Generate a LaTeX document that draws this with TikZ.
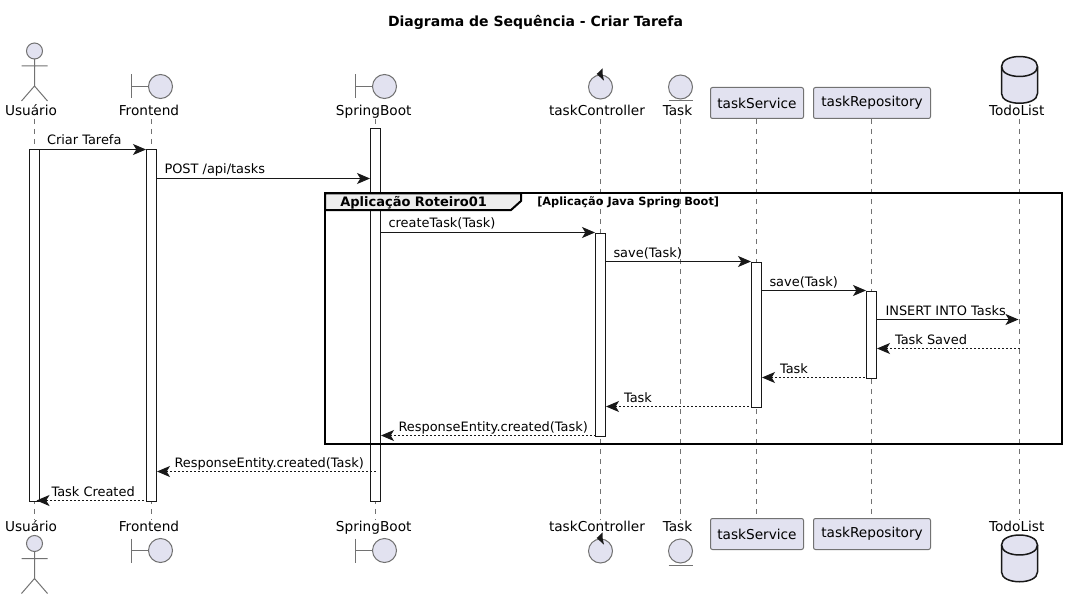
\documentclass[tikz,border=0pt]{standalone}
\usepackage{fontspec}
\setmainfont{DejaVu Sans}
\usetikzlibrary{arrows.meta}
\definecolor{partfill}{HTML}{E2E2F0}
\definecolor{partline}{HTML}{727272}
\definecolor{inkline}{HTML}{181818}
\def\px{0.75pt}
\tikzset{
  partname/.style={anchor=base,inner sep=0pt,text height=11*\px,text depth=3*\px,font=\fontsize{10.25}{12}\selectfont,text=black},
  partbox/.style={draw=partline,fill=partfill,rounded corners=1.5pt,line width=\px,minimum height=31*\px,inner sep=0pt,font=\fontsize{10.25}{12}\selectfont},
  lifeline/.style={draw=partline,line width=\px,dash pattern=on 3.75pt off 3.75pt},
  activation/.style={draw=inkline,fill=white,line width=\px,minimum width=10*\px,inner sep=0pt,anchor=north},
  msg/.style={draw=inkline,line width=\px,-{Stealth[length=9.75pt,width=8.25pt,inset=2.5pt]}},
  retmsg/.style={draw=inkline,line width=\px,{Stealth[length=9.75pt,width=8.25pt,inset=2.5pt]}-,dash pattern=on 1.5pt off 1.5pt},
  msgtext/.style={anchor=base west,inner sep=0pt,yshift=4.5*\px,font=\fontsize{9.7}{12}\selectfont},
  glyph/.style={draw=partline,fill=partfill,line width=\px},
  actorpic/.pic={
    \draw[glyph] (0,0) circle (8);
    \draw[draw=partline,line width=\px] (0,8) -- (0,35) (-13,15) -- (13,15) (-13,50) -- (0,35) -- (13,50);
  },
  boundarypic/.pic={
    \draw[draw=partline,line width=\px] (-29,-12) -- (-29,12) (-29,0) -- (-12,0);
    \draw[glyph] (0,0) circle (12);
  },
  controlpic/.pic={
    \draw[glyph] (0,0) circle (12);
    \fill[inkline] (-3.8,-13) -- (2.2,-18.7) -- (2.2,-12.5) -- (3.5,-6.3) -- cycle;
  },
  entitypic/.pic={
    \draw[glyph] (0,0) circle (12);
    \draw[draw=partline,line width=\px] (-12,14) -- (12,14);
  },
  databasepic/.pic={
    \draw[fill=partfill,draw=inkline,line width=1.5*\px] (-18,10) .. controls (-18,-3.3) and (18,-3.3) .. (18,10) -- (18,37) .. controls (18,50) and (-18,50) .. (-18,37) -- cycle;
    \draw[draw=inkline,line width=1.5*\px] (-18,10) .. controls (-18,23.3) and (18,23.3) .. (18,10);
  }
}
\begin{document}
\begin{tikzpicture}[x=0.75pt,y=-0.75pt]
  \useasboundingbox (0,0) rectangle (1067,599);
  % \draw[help lines,step=100] (0,0) grid (1067,599);

  \draw (535.5,22.5) node (title) [font=\fontsize{10.5}{12}\bfseries] {Diagrama de Sequência - Criar Tarefa};

  \draw (31,115.5) node (usuarioTop) [partname] {Usuário};
  \draw (149,115.5) node (frontendTop) [partname] {Frontend};
  \draw (373.7,115.5) node (springTop) [partname] {SpringBoot};
  \draw (597,115.5) node (controllerTop) [partname] {taskController};
  \draw (677.5,115.5) node (taskTop) [partname] {Task};
  \draw (757,103) node (serviceTop) [partbox,minimum width=93*\px] {taskService};
  \draw (872,103) node (repositoryTop) [partbox,minimum width=117*\px] {taskRepository};
  \draw (1016.7,115.5) node (todoTop) [partname] {TodoList};

  \draw (31,531.5) node (usuarioBot) [partname] {Usuário};
  \draw (149,531.5) node (frontendBot) [partname] {Frontend};
  \draw (373.7,531.5) node (springBot) [partname] {SpringBoot};
  \draw (597,531.5) node (controllerBot) [partname] {taskController};
  \draw (677.5,531.5) node (taskBot) [partname] {Task};
  \draw (757,534) node (serviceBot) [partbox,minimum width=93*\px] {taskService};
  \draw (872,534) node (repositoryBot) [partbox,minimum width=117*\px] {taskRepository};
  \draw (1016.7,531.5) node (todoBot) [partname] {TodoList};

  \pic at (34.5,51) {actorpic};
  \pic at (160.5,86.5) {boundarypic};
  \pic at (384.5,86.5) {boundarypic};
  \pic at (600.5,87) {controlpic};
  \pic at (680.5,87) {entitypic};
  \pic at (1019.5,56.5) {databasepic};

  \pic at (34.5,543.5) {actorpic};
  \pic at (160.5,550.5) {boundarypic};
  \pic at (384.5,550.5) {boundarypic};
  \pic at (600.5,551) {controlpic};
  \pic at (680.5,551) {entitypic};
  \pic at (1019.5,535) {databasepic};

  \coordinate (usuarioLine) at (34.5,0);
  \coordinate (frontendLine) at (151.5,0);
  \coordinate (springLine) at (375.5,0);
  \coordinate (controllerLine) at (600.5,0);
  \coordinate (taskLine) at (680.5,0);
  \coordinate (serviceLine) at (756.5,0);
  \coordinate (repositoryLine) at (871.5,0);
  \coordinate (todoLine) at (1019.5,0);

  \draw [lifeline] (usuarioLine |- usuarioTop.south) -- (usuarioLine |- usuarioBot.north);
  \draw [lifeline] (frontendLine |- frontendTop.south) -- (frontendLine |- frontendBot.north);
  \draw [lifeline] (springLine |- springTop.south) -- (springLine |- springBot.north);
  \draw [lifeline] (controllerLine |- controllerTop.south) -- (controllerLine |- controllerBot.north);
  \draw [lifeline] (taskLine |- taskTop.south) -- (taskLine |- taskBot.north);
  \draw [lifeline] (serviceLine |- serviceTop.south) -- (serviceLine |- serviceBot.north);
  \draw [lifeline] (repositoryLine |- repositoryTop.south) -- (repositoryLine |- repositoryBot.north);
  \draw [lifeline] (todoLine |- todoTop.south) -- (todoLine |- todoBot.north);

  \draw (34.5,149.5) node (usuarioAct) [activation,minimum height=351*\px] {};
  \draw (151.5,149.5) node (frontendAct) [activation,minimum height=351*\px] {};
  \draw (375.5,128.5) node (springAct) [activation,minimum height=372*\px] {};
  \draw (600.5,232.5) node (controllerAct) [activation,minimum height=203*\px] {};
  \draw (756.5,261.5) node (serviceAct) [activation,minimum height=145*\px] {};
  \draw (871.5,290.5) node (repositoryAct) [activation,minimum height=87*\px] {};

  \draw [line width=1.5pt] (325,193.5) rectangle (1062,443.5);
  \draw [line width=1.5pt,fill=black!7] (325,193.5) -- (521,193.5) -- (521,201) -- (511,210) -- (325,210) -- cycle;
  \draw (340,206) node (groupName) [anchor=base west,inner sep=0pt,font=\fontsize{9.75}{12}\bfseries] {Aplicação Roteiro01};
  \draw (537,205) node (groupGuard) [anchor=base west,inner sep=0pt,font=\fontsize{8.5}{10}\bfseries] {[Aplicação Java Spring Boot]};

  \coordinate (rowCriar) at (0,149.5);
  \coordinate (rowPost) at (0,178.5);
  \coordinate (rowCreate) at (0,232.5);
  \coordinate (rowSaveA) at (0,261.5);
  \coordinate (rowSaveB) at (0,290.5);
  \coordinate (rowInsert) at (0,319.5);
  \coordinate (rowSaved) at (0,348.5);
  \coordinate (rowTaskA) at (0,377.5);
  \coordinate (rowTaskB) at (0,406.5);
  \coordinate (rowRespA) at (0,435.5);
  \coordinate (rowRespB) at (0,471.5);
  \coordinate (rowCreated) at (0,500.5);

  \draw [msg] (usuarioAct.east |- rowCriar) -- (frontendAct.west |- rowCriar) node [msgtext,pos=0,xshift=6.5*\px] {Criar Tarefa};
  \draw [msg] (frontendAct.east |- rowPost) -- (springAct.west |- rowPost) node [msgtext,pos=0,xshift=7*\px] {POST /api/tasks};
  \draw [msg] (springAct.east |- rowCreate) -- (controllerAct.west |- rowCreate) node [msgtext,pos=0,xshift=7*\px] {createTask(Task)};
  \draw [msg] (controllerAct.east |- rowSaveA) -- (serviceAct.west |- rowSaveA) node [msgtext,pos=0,xshift=7*\px] {save(Task)};
  \draw [msg] (serviceAct.east |- rowSaveB) -- (repositoryAct.west |- rowSaveB) node [msgtext,pos=0,xshift=7*\px] {save(Task)};
  \draw [msg,shorten >=1*\px] (repositoryAct.east |- rowInsert) -- (todoLine |- rowInsert) node [msgtext,pos=0,xshift=8*\px] {INSERT INTO Tasks};

  \draw [retmsg] (repositoryAct.east |- rowSaved) -- (todoLine |- rowSaved) node [msgtext,pos=0,xshift=17.5*\px] {Task Saved};
  \draw [retmsg] (serviceAct.east |- rowTaskA) -- (repositoryAct.west |- rowTaskA) node [msgtext,pos=0,xshift=17.5*\px] {Task};
  \draw [retmsg] (controllerAct.east |- rowTaskB) -- (serviceAct.west |- rowTaskB) node [msgtext,pos=0,xshift=17.5*\px] {Task};
  \draw [retmsg] (springAct.east |- rowRespA) -- (controllerAct.west |- rowRespA) node [msgtext,pos=0,xshift=17*\px] {ResponseEntity.created(Task)};
  \draw [retmsg] (frontendAct.east |- rowRespB) -- (springLine |- rowRespB) node [msgtext,pos=0,xshift=17*\px] {ResponseEntity.created(Task)};
  \draw [retmsg,shorten <=-3.5*\px] (usuarioAct.east |- rowCreated) -- (frontendAct.west |- rowCreated) node [msgtext,pos=0,xshift=11*\px] {Task Created};
\end{tikzpicture}
\end{document}
